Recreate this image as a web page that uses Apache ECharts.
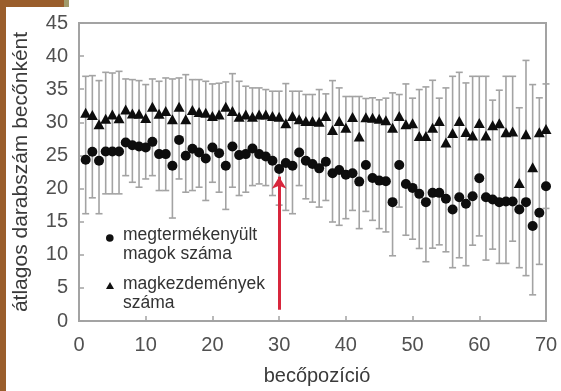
<!DOCTYPE html>
<html>
<head>
<meta charset="utf-8">
<script src="https://cdn.jsdelivr.net/npm/echarts@6/dist/echarts.min.js"></script>
<style>
  html, body { margin: 0; padding: 0; background: #ffffff; }
  #chart { width: 561px; height: 391px; }
</style>
</head>
<body>
<div id="chart"></div>
<script>
// Pod positions along the inflorescence
const positions = [1,2,3,4,5,6,7,8,9,10,11,12,13,14,15,16,17,18,19,20,
  21,22,23,24,25,26,27,28,29,30,31,32,33,34,35,36,37,38,39,40,
  41,42,43,44,45,46,47,48,49,50,51,52,53,54,55,56,57,58,59,60,
  61,62,63,64,65,66,67,68,69,70];

// Mean number of fertilised seeds per pod
const seedMean = [24.35,25.55,24.2,25.6,25.6,25.6,26.95,26.55,26.35,26.2,
  27.05,25.2,25.2,23.45,27.35,24.95,26.0,25.45,24.55,26.2,
  25.35,23.45,26.35,25.05,25.2,26.05,25.2,24.85,24.2,22.95,
  23.85,23.45,25.45,24.2,23.7,23.05,24.05,22.3,22.8,22.1,
  22.3,21.05,23.55,21.6,21.2,21.1,17.95,23.55,20.7,20.1,
  19.2,17.95,19.35,19.35,18.45,16.85,18.7,17.7,18.85,21.55,
  18.7,18.35,17.95,18.05,18.05,16.85,17.95,14.35,16.35,20.35];

// Lower end of the seed error bars
const seedLow = [16.2,18.6,16.2,19.2,19.2,19.2,21.95,20.95,20.2,21.45,
  21.95,19.7,19.7,15.55,21.45,19.45,19.7,20.2,18.2,20.95,
  19.45,16.85,20.2,18.95,19.45,20.45,20.7,20.45,18.95,17.5,
  16.7,16.2,20.45,18.45,17.95,17.2,18.2,14.95,14.45,15.45,
  16.7,13.95,16.55,15.2,13.95,13.45,9.85,17.2,12.95,12.35,
  10.95,8.95,11.0,11.5,10.45,8.05,9.55,8.35,11.45,12.85,
  9.2,10.85,8.7,8.7,12.05,8.05,6.85,3.95,8.55,17.0];

// Mean number of ovules per pod
const budMean = [31.45,31.1,29.7,30.55,31.2,30.6,31.95,31.35,31.3,30.65,
  32.35,31.3,31.7,30.45,32.35,30.45,31.85,31.55,31.45,30.95,
  31.2,32.35,31.7,30.85,31.2,30.85,31.2,31.2,30.95,30.85,
  29.85,30.95,30.45,30.2,30.2,30.1,30.95,28.85,30.2,29.2,
  30.8,27.85,30.75,30.7,30.55,30.3,29.2,30.95,29.7,29.85,
  27.95,27.95,29.2,30.2,26.95,28.4,30.2,28.55,28.0,29.9,
  28.0,29.55,29.85,28.5,28.6,20.85,28.2,23.2,28.5,29.0];

// Upper end of the ovule error bars
const budHigh = [36.95,37.05,36.3,37.55,37.45,37.7,36.55,36.45,36.3,35.7,
  36.55,36.2,36.7,36.55,36.7,37.2,36.45,36.45,36.2,35.8,
  35.9,36.1,37.35,36.2,35.45,35.2,35.2,34.95,34.7,34.7,
  35.85,34.7,34.7,34.2,34.2,34.95,34.3,36.3,35.2,33.9,
  33.9,33.9,33.6,33.7,33.4,33.65,34.45,34.2,35.8,33.65,
  34.95,35.35,36.35,33.65,35.2,36.95,37.55,35.95,36.95,36.95,
  36.95,33.35,34.85,36.95,36.95,32.2,39.35,35.7,33.7,35.8];

// Axis ticks
const xTicks = [0, 10, 20, 30, 40, 50, 60, 70];
const yTicks = [0, 5, 10, 15, 20, 25, 30, 35, 40, 45];

// Highlighted position (arrow)
const arrowX = [30];
const arrowY = [1.7, 21.8];

const seedName = 'megtermékenyült\nmagok száma';
const budName = 'magkezdemények\nszáma';

const FONT = '"Liberation Sans", Arial, sans-serif';
const AXIS_GRAY = '#a3a3a3';
const BAR_GRAY = '#a3a3a3';

const chart = echarts.init(document.getElementById('chart'), null, { renderer: 'canvas' });

function renderErrorBar(params, api) {
  const x = api.value(0);
  const lo = api.coord([x, api.value(1)]);
  const hi = api.coord([x, api.value(2)]);
  const half = 3.5;
  const style = { stroke: BAR_GRAY, lineWidth: 1.6 };
  return {
    type: 'group',
    children: [
      { type: 'line', shape: { x1: lo[0], y1: lo[1], x2: hi[0], y2: hi[1] }, style: style },
      { type: 'line', shape: { x1: lo[0] - half, y1: lo[1], x2: lo[0] + half, y2: lo[1] }, style: style },
      { type: 'line', shape: { x1: hi[0] - half, y1: hi[1], x2: hi[0] + half, y2: hi[1] }, style: style }
    ]
  };
}

const option = {
  animation: false,
  backgroundColor: '#ffffff',
  grid: {
    left: 79, right: 15, top: 23, bottom: 68,
    show: true, borderColor: AXIS_GRAY, borderWidth: 2, backgroundColor: 'transparent'
  },
  xAxis: {
    type: 'value',
    min: xTicks[0], max: xTicks[xTicks.length - 1], interval: xTicks[1] - xTicks[0],
    name: 'becőpozíció',
    nameLocation: 'middle',
    nameGap: 45,
    nameTextStyle: { fontFamily: FONT, fontSize: 20, color: '#3a3a3a', padding: [0, 0, 0, 9] },
    axisLine: { show: true, lineStyle: { color: AXIS_GRAY, width: 2 } },
    axisTick: { show: true, inside: true, length: 5, lineStyle: { color: AXIS_GRAY, width: 1.5 } },
    axisLabel: { fontFamily: FONT, fontSize: 20, color: '#505050', margin: 14 },
    splitLine: { show: false }
  },
  yAxis: {
    type: 'value',
    min: yTicks[0], max: yTicks[yTicks.length - 1], interval: yTicks[1] - yTicks[0],
    name: 'átlagos darabszám becőnként',
    nameLocation: 'middle',
    nameRotate: 90,
    nameGap: 47,
    nameTextStyle: { fontFamily: FONT, fontSize: 21, color: '#3a3a3a' },
    axisLine: { show: true, lineStyle: { color: AXIS_GRAY, width: 2 } },
    axisTick: { show: true, inside: true, length: 5, lineStyle: { color: AXIS_GRAY, width: 1.5 } },
    axisLabel: { fontFamily: FONT, fontSize: 20, color: '#505050', margin: 11 },
    splitLine: { show: false }
  },
  graphic: [
    // brown page frame at the left and top edges
    { type: 'rect', left: 0, top: 0, shape: { width: 64, height: 7 }, style: { fill: '#9a5e2c' }, silent: true },
    { type: 'rect', left: 64, top: 0, shape: { width: 5, height: 7 }, style: { fill: '#a19b6b' }, silent: true },
    { type: 'rect', left: 0, top: 0, shape: { width: 6, height: 391 }, style: { fill: '#9a5e2c' }, silent: true },
    // key
    {
      type: 'group', left: 106, top: 226, silent: true,
      children: [
        { type: 'circle', shape: { cx: 3.8, cy: 12, r: 3.8 }, style: { fill: '#111' } },
        { type: 'text', x: 17, y: 0, style: { text: seedName, font: '17.5px ' + FONT, fill: '#333', lineHeight: 19 } }
      ]
    },
    {
      type: 'group', left: 106, top: 275, silent: true,
      children: [
        { type: 'polygon', shape: { points: [[4, 7], [8, 14], [0, 14]] }, style: { fill: '#111' } },
        { type: 'text', x: 17, y: 0, style: { text: budName, font: '17.5px ' + FONT, fill: '#333', lineHeight: 19 } }
      ]
    }
  ],
  series: [
    {
      type: 'custom',
      name: 'szórás',
      renderItem: renderErrorBar,
      encode: { x: 0, y: [1, 2] },
      data: positions.map((p, i) => [p, seedLow[i], budHigh[i]]),
      z: 1,
      silent: true
    },
    {
      type: 'scatter',
      name: budName,
      symbol: 'triangle',
      symbolSize: [11, 10],
      itemStyle: { color: '#0d0d0d', opacity: 1 },
      data: positions.map((p, i) => [p, budMean[i]]),
      z: 3
    },
    {
      type: 'scatter',
      name: seedName,
      symbol: 'circle',
      symbolSize: 10,
      itemStyle: { color: '#0d0d0d', opacity: 1 },
      data: positions.map((p, i) => [p, seedMean[i]]),
      z: 3,
      markLine: {
        silent: true,
        symbol: ['none', 'arrow'],
        symbolSize: [11, 12],
        label: { show: false },
        lineStyle: { color: '#d8263c', width: 3, type: 'solid' },
        data: [[{ coord: [arrowX[0], arrowY[0]] }, { coord: [arrowX[0], arrowY[1]] }]],
        z: 4
      }
    }
  ]
};

chart.setOption(option);
</script>
</body>
</html>
